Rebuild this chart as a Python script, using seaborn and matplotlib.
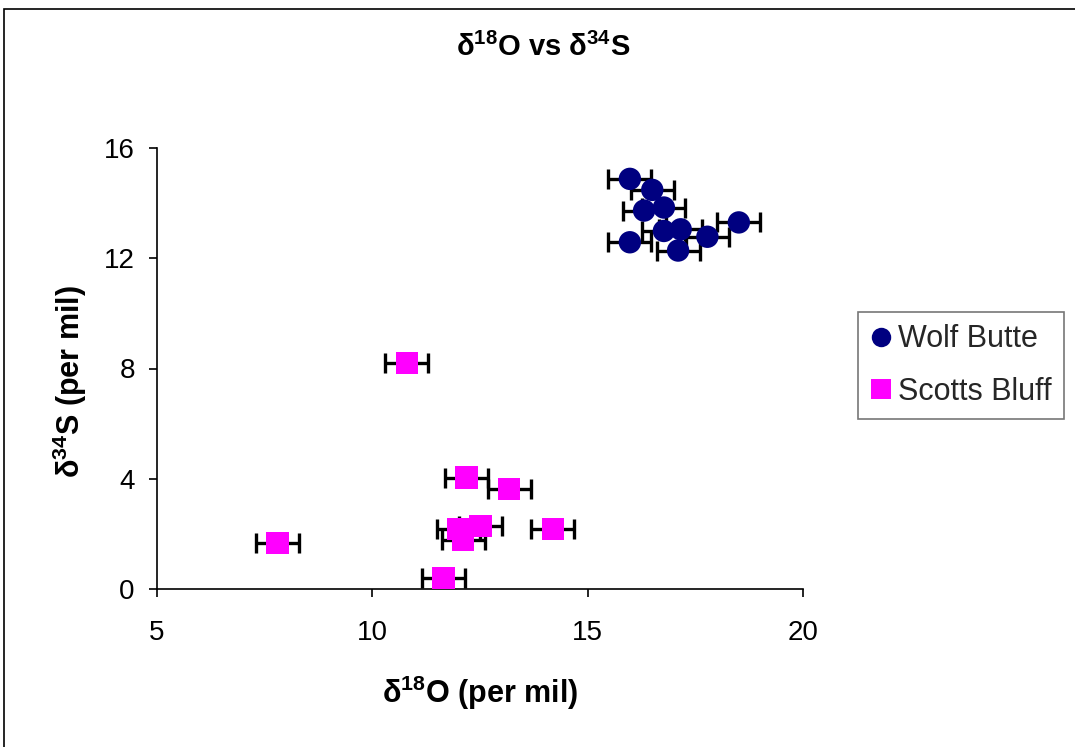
import numpy as np
import matplotlib
matplotlib.use("Agg")
import matplotlib.pyplot as plt
from matplotlib.patches import Rectangle
import pandas as pd
import seaborn as sns

# Wolf Butte samples
wolf_o18 = [15.98, 16.50, 16.31, 16.77, 16.77, 17.16, 17.78, 18.51, 15.98, 17.10]
wolf_s34 = [14.88, 14.48, 13.73, 13.84, 12.99, 13.05, 12.78, 13.30, 12.58, 12.28]

# Scotts Bluff samples
scotts_o18 = [10.80, 12.19, 13.18, 12.51, 11.99, 14.19, 12.11, 7.80, 11.65]
scotts_s34 = [8.19, 4.04, 3.63, 2.29, 2.17, 2.17, 1.78, 1.66, 0.40]

o18_err = 0.5
x_ticks = [5, 10, 15, 20]
y_ticks = [0, 4, 8, 12, 16]

df = pd.DataFrame({
    "o18": wolf_o18 + scotts_o18,
    "s34": wolf_s34 + scotts_s34,
    "site": ["Wolf Butte"] * len(wolf_o18) + ["Scotts Bluff"] * len(scotts_o18),
})

sns.set_theme(style="white")
plt.rcParams["font.family"] = ["Liberation Sans", "DejaVu Sans"]
plt.rcParams["mathtext.fontset"] = "custom"
plt.rcParams["mathtext.rm"] = "Liberation Sans"
plt.rcParams["mathtext.bf"] = "Liberation Sans:bold"

fig = plt.figure(figsize=(10.75, 7.47), dpi=100)
ax = fig.add_axes([157 / 1075, 1 - 589 / 747, 646 / 1075, 441 / 747])

# error bars underneath the markers
ax.errorbar(df["o18"], df["s34"], xerr=o18_err, fmt="none", ecolor="black",
            elinewidth=2.4, capsize=7.5, capthick=2.4, zorder=1)

sns.scatterplot(data=df, x="o18", y="s34", hue="site", style="site",
                palette={"Wolf Butte": "#000080", "Scotts Bluff": "#FF00FF"},
                markers={"Wolf Butte": "o", "Scotts Bluff": "s"},
                s=260, linewidth=0, ax=ax, zorder=3)

ax.set_xlim(5, 20)
ax.set_ylim(0, 16)
ax.set_xticks(x_ticks)
ax.set_yticks(y_ticks)
for side in ["top", "right"]:
    ax.spines[side].set_visible(False)
for side in ["left", "bottom"]:
    ax.spines[side].set_color("black")
    ax.spines[side].set_linewidth(1.2)
ax.tick_params(axis="both", direction="out", length=6, width=1.2, color="black",
               labelsize=20, labelcolor="black")
ax.tick_params(axis="y", pad=10)
ax.tick_params(axis="x", pad=16)
ax.tick_params(left=True, bottom=True)

ax.set_xlabel(r"δ$^{\mathbf{18}}$O (per mil)", fontsize=22, fontweight="bold", color="black")
ax.set_ylabel(r"δ$^{\mathbf{34}}$S (per mil)", fontsize=22, fontweight="bold", color="black")
ax.xaxis.set_label_coords(0.5, -0.191)
ax.yaxis.set_label_coords(-0.105, 0.47)

fig.text(543 / 1075, 1 - 47 / 747, r"δ$^{\mathbf{18}}$O vs δ$^{\mathbf{34}}$S",
         fontsize=21, fontweight="bold", ha="center", va="center", color="black")

leg = ax.legend(loc="upper left", bbox_to_anchor=(858 / 1075, 1 - 312 / 747),
                bbox_transform=fig.transFigure, fontsize=22, frameon=True,
                fancybox=False, edgecolor="#555555", borderpad=0.4,
                labelspacing=0.75, handletextpad=0.2, handlelength=0.7,
                markerscale=1.0, borderaxespad=0)
leg.get_frame().set_linewidth(1.2)
for h in leg.legend_handles:
    h.set_markersize(14)

# chart area border
fig.patches.append(Rectangle((4 / 1075, -0.1), 1.2, 1.1 - 9 / 747,
                             transform=fig.transFigure, fill=False,
                             edgecolor="black", linewidth=1.2))

fig.savefig("out.png", dpi=100)
